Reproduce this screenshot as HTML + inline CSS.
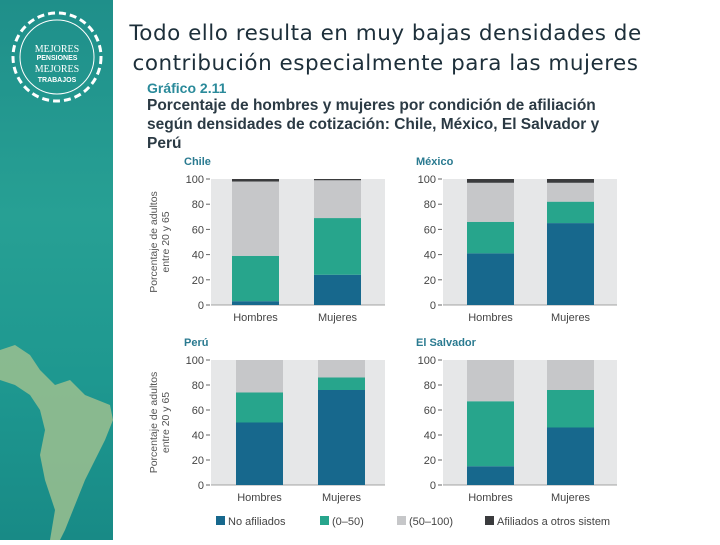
<!DOCTYPE html>
<html><head><meta charset="utf-8"><style>
html,body{margin:0;padding:0;width:720px;height:540px;overflow:hidden;background:#fff;font-family:"Liberation Sans",sans-serif}
#strip{position:absolute;left:0;top:0;width:113px;height:540px;background:linear-gradient(180deg,#1f8f8a 0%,#27a094 40%,#1e9890 70%,#188a86 100%)}
#title{position:absolute;left:113px;top:19px;width:545px;text-align:center;font-size:21.5px;line-height:30px;color:#1d2f3a;font-family:"DejaVu Sans",sans-serif;letter-spacing:0.5px}
</style></head><body>
<div id="strip">
<svg width="113" height="540">
<circle cx="57" cy="57" r="44" fill="none" stroke="#fff" stroke-width="3" stroke-dasharray="7 4"/>
<circle cx="57" cy="57" r="37" fill="none" stroke="#fff" stroke-width="1"/>
<text x="57" y="52" font-size="10" fill="#fff" text-anchor="middle" font-family="Liberation Serif">MEJORES</text>
<text x="57" y="60" font-size="7" fill="#fff" text-anchor="middle" font-weight="bold">PENSIONES</text>
<text x="57" y="72" font-size="10" fill="#fff" text-anchor="middle" font-family="Liberation Serif">MEJORES</text>
<text x="57" y="82" font-size="7" fill="#fff" text-anchor="middle" font-weight="bold">TRABAJOS</text>
<path d="M0,350 L15,345 L30,355 L40,370 L55,385 L70,380 L85,395 L110,405 L113,420 L105,440 L95,460 L85,480 L75,505 L65,530 L60,540 L50,540 L55,510 L45,480 L40,455 L45,430 L40,410 L30,395 L15,385 L0,380 Z" fill="#9cc08f" opacity="0.85"/>
</svg></div>
<div id="title">Todo ello resulta en muy bajas densidades de<br>contribución especialmente para las mujeres</div>
<svg id="chart" width="720" height="540" style="position:absolute;left:0;top:0"></svg>
<script>
const categories=["Hombres","Mujeres"];
const countries=["Chile","México","Perú","El Salvador"];
const seriesNames=["No afiliados","(0–50)","(50–100)","Afiliados a otros sistem"];
const noAfiliados=[[3,24],[41,65],[50,76],[15,46]];
const dens0_50=[[36,45],[25,17],[24,10],[52,30]];
const dens50_100=[[59,30],[31,15],[26,14],[33,24]];
const otros=[[2,1],[3,3],[0,0],[0,0]];
const ticks=[0,20,40,60,80,100];
const colors=["#17688d","#27a58c","#c6c7c9","#3a3b3d"];
const panels=[{x:211,w:174,top:179,bot:305,b:[232,314]},{x:443,w:174,top:179,bot:305,b:[467,547]},{x:211,w:174,top:360,bot:485,b:[236,318]},{x:443,w:174,top:360,bot:485,b:[467,547]}];
const NS="http://www.w3.org/2000/svg";
const svg=document.getElementById('chart');
function el(t,a,p){const e=document.createElementNS(NS,t);for(const k in a)e.setAttribute(k,a[k]);(p||svg).appendChild(e);return e;}
let t=el('text',{x:147,y:93,'font-size':14,'font-weight':'bold',fill:'#2a8a9a'});t.textContent='Gráfico 2.11';

["Porcentaje de hombres y mujeres por condición de afiliación","según densidades de cotización: Chile, México, El Salvador y","Perú"].forEach((s,i)=>{const e=el('text',{x:147,y:110+i*19,'font-size':15.5,'font-weight':'bold',fill:'#2b3a44'});e.textContent=s;
});
const series=[noAfiliados,dens0_50,dens50_100,otros];
panels.forEach((p,pi)=>{
 const g=el('g',{});
 const y=v=>p.bot-(p.bot-p.top)*v/100;
 el('rect',{x:p.x,y:p.top,width:p.w,height:p.bot-p.top,fill:'#e6e7e8'},g);
 const h=el('text',{x:p.x-27,y:p.top-14,'font-size':11,'font-weight':'bold',fill:'#2a7a90'},g);h.textContent=countries[pi];
 ticks.forEach(v=>{const tt=el('text',{x:p.x-7,y:y(v)+4,'font-size':11,fill:'#444','text-anchor':'end'},g);tt.textContent=v;
  
  el('line',{x1:p.x-5,x2:p.x-1,y1:y(v),y2:y(v),stroke:'#666'},g);});
 el('line',{x1:p.x,x2:p.x+p.w,y1:p.bot,y2:p.bot,stroke:'#888','stroke-width':0.7},g);
 categories.forEach((c,ci)=>{
  let acc=0;
  series.forEach((s,si)=>{const v=s[pi][ci];if(v<=0)return;
   const r=el('rect',{x:p.b[ci],y:y(acc+v),width:47,height:y(acc)-y(acc+v),fill:colors[si]},g);
   acc+=v;});
  const l=el('text',{x:p.b[ci]+23.5,y:p.bot+16,'font-size':11,fill:'#444','text-anchor':'middle'},g);l.textContent=c;
  
 });
 if(pi%2==0){const a=el('text',{transform:`translate(157,${(p.top+p.bot)/2}) rotate(-90)`,'font-size':10.5,fill:'#555','text-anchor':'middle'},g);a.textContent='Porcentaje de adultos';
  const b=el('text',{transform:`translate(169,${(p.top+p.bot)/2}) rotate(-90)`,'font-size':10.5,fill:'#555','text-anchor':'middle'},g);b.textContent='entre 20 y 65';
  }
});
const lx=[216,320,397,485];
seriesNames.forEach((n,i)=>{const g=el('g',{});
 el('rect',{x:lx[i],y:516,width:9,height:9,fill:colors[i]},g);
 const tt=el('text',{x:lx[i]+12,y:525,'font-size':11,fill:'#444'},g);tt.textContent=n;});
</script>
</body></html>
